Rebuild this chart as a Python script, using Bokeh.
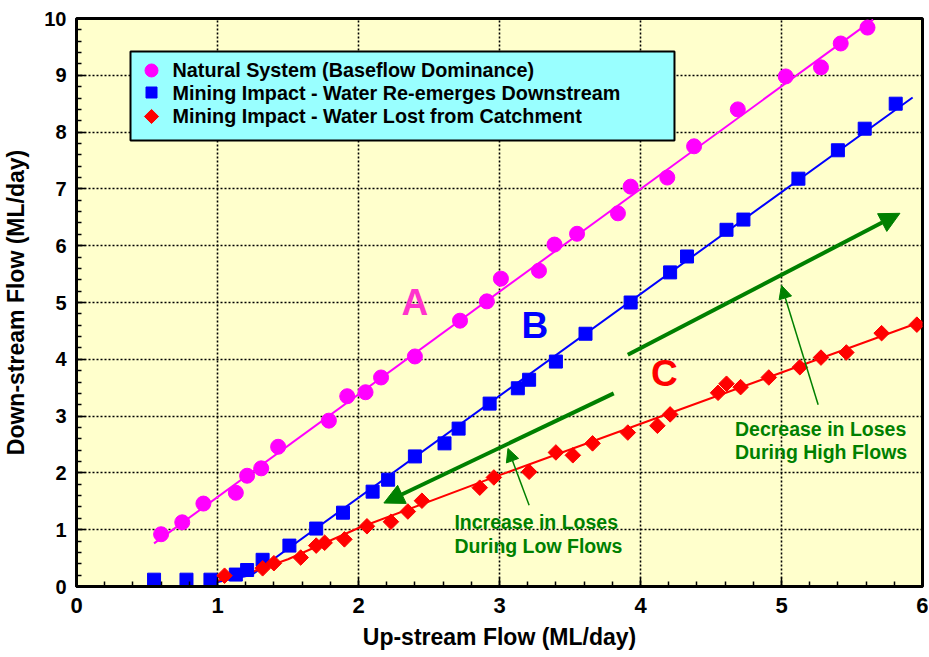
import math
from bokeh.plotting import figure
from bokeh.models import (Range1d, SingleIntervalTicker, BoxAnnotation,
                          Arrow, NormalHead, Label)
from bokeh.embed import file_html
from bokeh.resources import INLINE

# ---- data ----
natural_x = [0.60, 0.75, 0.90, 1.13, 1.21, 1.31, 1.43, 1.79, 1.92, 2.05, 2.16, 2.40, 2.72, 2.91,
             3.01, 3.28, 3.39, 3.55, 3.84, 3.93, 4.19, 4.38, 4.69, 5.03, 5.28, 5.42, 5.61]
natural_y = [0.92, 1.13, 1.46, 1.65, 1.95, 2.08, 2.46, 2.92, 3.35, 3.42, 3.68, 4.05, 4.68, 5.02,
             5.42, 5.56, 6.02, 6.21, 6.57, 7.04, 7.20, 7.75, 8.40, 8.98, 9.14, 9.56, 9.84]

reemerge_x = [0.55, 0.78, 0.95, 1.13, 1.21, 1.32, 1.51, 1.70, 1.89, 2.10, 2.21, 2.40, 2.61, 2.71,
              2.93, 3.13, 3.21, 3.40, 3.61, 3.93, 4.21, 4.33, 4.61, 4.73, 5.12, 5.40, 5.59, 5.81]
reemerge_y = [0.12, 0.12, 0.12, 0.21, 0.29, 0.47, 0.72, 1.02, 1.30, 1.67, 1.88, 2.29, 2.52, 2.78,
              3.22, 3.49, 3.64, 3.96, 4.45, 5.00, 5.53, 5.81, 6.28, 6.46, 7.18, 7.68, 8.06, 8.50]

lost_x = [1.05, 1.32, 1.40, 1.59, 1.70, 1.76, 1.90, 2.06, 2.23, 2.35, 2.45, 2.86, 2.96, 3.21, 3.40,
          3.52, 3.66, 3.91, 4.12, 4.21, 4.55, 4.61, 4.71, 4.91, 5.13, 5.28, 5.46, 5.71, 5.96]
lost_y = [0.19, 0.32, 0.41, 0.51, 0.72, 0.77, 0.83, 1.06, 1.14, 1.32, 1.51, 1.74, 1.92, 2.02, 2.36,
          2.31, 2.52, 2.71, 2.83, 3.03, 3.41, 3.57, 3.51, 3.68, 3.86, 4.03, 4.12, 4.46, 4.61]

# trend lines (as drawn in the reference)
natural_fit_x = [0.55, 5.65]
natural_fit_y = [0.76, 9.98]
reemerge_fit_x = [1.00, 1.24, 5.93]
reemerge_fit_y = [0.08, 0.20, 8.61]
lost_fit_x = [1.00, 1.25, 1.50, 2.00, 3.00, 6.00]
lost_fit_y = [0.10, 0.26, 0.48, 1.03, 1.96, 4.67]

series_labels = ["Natural System (Baseflow Dominance)",
                 "Mining Impact - Water Re-emerges Downstream",
                 "Mining Impact - Water Lost from Catchment"]
x_title = "Up-stream Flow (ML/day)"
y_title = "Down-stream Flow (ML/day)"

MAGENTA = "#FF00FF"
BLUE = "#0000FF"
RED = "#FF0000"
GREEN = "#008000"
FONT = "Liberation Sans"
DIAMOND = math.pi / 4

p = figure(frame_width=846, frame_height=568, x_range=Range1d(0, 6), y_range=Range1d(0, 10),
           output_backend="svg", toolbar_location=None,
           min_border_left=75, min_border_right=6, min_border_top=18, min_border_bottom=66,
           background_fill_color="#FFFFCC", border_fill_color="white")

p.outline_line_color = "black"
p.outline_line_width = 3
p.outline_line_alpha = 1

for ax in (p.xaxis[0], p.yaxis[0]):
    ax.ticker = SingleIntervalTicker(interval=1, num_minor_ticks=5)
    ax.axis_line_width = 3
    ax.axis_line_color = "black"
    ax.major_tick_in = 9
    ax.major_tick_out = 0
    ax.minor_tick_in = 5
    ax.minor_tick_out = 0
    ax.major_tick_line_width = 1.5
    ax.minor_tick_line_width = 1.5
    ax.major_label_text_font = FONT
    ax.major_label_text_font_style = "bold"
    ax.major_label_text_color = "black"
    ax.axis_label_text_font = FONT
    ax.axis_label_text_font_style = "bold"
    ax.axis_label_text_font_size = "23px"
    ax.axis_label_text_color = "black"

p.xaxis.major_label_text_font_size = "22px"
p.yaxis.major_label_text_font_size = "20px"
p.xaxis.axis_label = x_title
p.yaxis.axis_label = y_title
p.xaxis.major_label_standoff = 11
p.yaxis.major_label_standoff = 10
p.xaxis.axis_label_standoff = 8
p.yaxis.axis_label_standoff = 12

for g in (p.xgrid[0], p.ygrid[0]):
    g.grid_line_color = "black"
    g.grid_line_dash = "2 2"
    g.grid_line_width = 1.6

# trend lines
p.line(natural_fit_x, natural_fit_y, line_color=MAGENTA, line_width=2)
p.line(reemerge_fit_x, reemerge_fit_y, line_color=BLUE, line_width=2)
p.line(lost_fit_x, lost_fit_y, line_color=RED, line_width=2)

# markers
p.scatter(natural_x, natural_y, marker="circle", size=15, fill_color=MAGENTA, line_color=MAGENTA)
p.scatter(reemerge_x, reemerge_y, marker="square", size=13, fill_color=BLUE, line_color=BLUE)
p.scatter(lost_x, lost_y, marker="square", angle=DIAMOND, size=11, fill_color=RED, line_color=RED)

# legend box (drawn as in the reference: cyan box with black border)
p.add_layout(BoxAnnotation(left=0.383, right=4.241, bottom=7.852, top=9.419,
                           fill_color="#99FFFF", fill_alpha=1,
                           line_color="black", line_width=2, line_alpha=1, level="underlay"))
legend_rows_y = [9.085, 8.697, 8.275]
legend_key_x = 0.532
legend_text_x = 0.681
p.scatter([legend_key_x], [legend_rows_y[0]], marker="circle", size=13,
          fill_color=MAGENTA, line_color=MAGENTA)
p.scatter([legend_key_x], [legend_rows_y[1]], marker="square", size=11,
          fill_color=BLUE, line_color=BLUE)
p.scatter([legend_key_x], [legend_rows_y[2]], marker="square", angle=DIAMOND, size=10,
          fill_color=RED, line_color=RED)
for lab, yy in zip(series_labels, legend_rows_y):
    p.add_layout(Label(x=legend_text_x, y=yy, text=lab, text_align="left", text_baseline="middle",
                       text_font=FONT, text_font_style="bold", text_font_size="19.8px",
                       text_color="black"))

# big green trend arrows
p.add_layout(Arrow(end=NormalHead(size=20, fill_color=GREEN, line_color=GREEN),
                   x_start=3.81, y_start=3.40, x_end=2.18, y_end=1.47,
                   line_color=GREEN, line_width=4))
p.add_layout(Arrow(end=NormalHead(size=20, fill_color=GREEN, line_color=GREEN),
                   x_start=3.91, y_start=4.08, x_end=5.84, y_end=6.57,
                   line_color=GREEN, line_width=4))
# thin pointer arrows
p.add_layout(Arrow(end=NormalHead(size=13, fill_color=GREEN, line_color=GREEN),
                   x_start=3.21, y_start=1.43, x_end=3.06, y_end=2.43,
                   line_color=GREEN, line_width=1.5))
p.add_layout(Arrow(end=NormalHead(size=13, fill_color=GREEN, line_color=GREEN),
                   x_start=5.26, y_start=3.20, x_end=5.00, y_end=5.30,
                   line_color=GREEN, line_width=1.5))

# series letters
for txt, x, y, col in (("A", 2.40, 5.00, "#FF33CC"), ("B", 3.25, 4.60, BLUE), ("C", 4.17, 3.75, RED)):
    p.add_layout(Label(x=x, y=y, text=txt, text_align="center", text_baseline="middle",
                       text_font=FONT, text_font_style="bold", text_font_size="37px",
                       text_color=col))

# annotation texts
for txt, x, y in (("Increase in Loses", 2.68, 1.13), ("During Low Flows", 2.68, 0.72),
                  ("Decrease in Loses", 4.67, 2.78), ("During High Flows", 4.67, 2.36)):
    p.add_layout(Label(x=x, y=y, text=txt, text_align="left", text_baseline="middle",
                       text_font=FONT, text_font_style="bold", text_font_size="19.5px",
                       text_color=GREEN))

open("out.html", "w").write(file_html(p, INLINE))
